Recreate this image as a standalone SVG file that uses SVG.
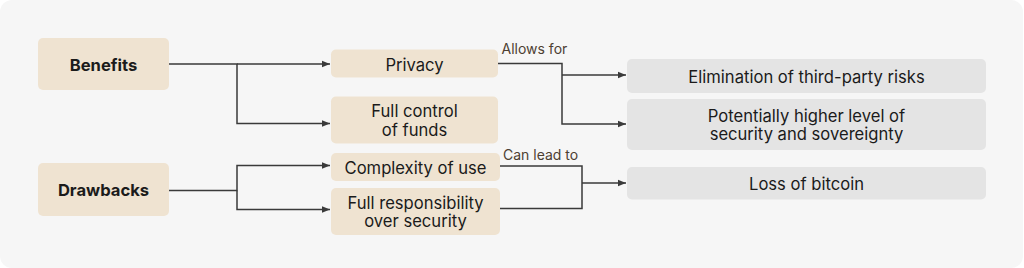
<svg xmlns="http://www.w3.org/2000/svg" width="1024" height="268" viewBox="0 0 1024 268">
<defs>
<style>
.bg{fill:#f6f6f6}
.src{fill:#efe3d1}
.dst{fill:#e4e4e4}
.t{font-family:Inter,"Noto Sans","Liberation Sans",sans-serif;font-size:16.6px;fill:#1b1b1b;text-anchor:middle}
.b{font-weight:700}
.lbl{font-family:Inter,"Noto Sans","Liberation Sans",sans-serif;font-size:14px;fill:#4d4032}
.c{fill:none;stroke:#3a3a3a;stroke-width:1.5}
</style>
<marker id="ah" viewBox="0 0 8 8" refX="8" refY="4" markerWidth="8" markerHeight="8" markerUnits="userSpaceOnUse" orient="auto">
<path d="M0,0.8 L8,4 L0,7.2 Z" fill="#3a3a3a"/>
</marker>
</defs>
<rect class="bg" x="0" y="0" width="1023" height="268" rx="12"/>

<g id="connectors">
<path class="c" d="M169,64 H237 V123.5 H330" marker-end="url(#ah)"/>
<path class="c" d="M237,64 H330" marker-end="url(#ah)"/>
<path class="c" d="M169,190.5 H237 V165.5 H330" marker-end="url(#ah)"/>
<path class="c" d="M237,190.5 V209.5 H330" marker-end="url(#ah)"/>
<path class="c" d="M498,63.5 H562 V124 H626" marker-end="url(#ah)"/>
<path class="c" d="M562,75 H626" marker-end="url(#ah)"/>
<path class="c" d="M500,166 H582 V208.5 H500"/>
<path class="c" d="M582,183 H626" marker-end="url(#ah)"/>
<text class="lbl" x="501.5" y="54">Allows for</text>
<text class="lbl" x="503" y="160">Can lead to</text>
</g>

<g id="benefits">
<rect class="src" x="38" y="38" width="131" height="52" rx="5"/>
<text class="t b" x="103.5" y="70.5">Benefits</text>
</g>
<g id="drawbacks">
<rect class="src" x="38" y="163" width="131" height="53" rx="5"/>
<text class="t b" x="103.5" y="196">Drawbacks</text>
</g>
<g id="privacy">
<rect class="src" x="331" y="49.5" width="167" height="28" rx="5"/>
<text class="t" x="414.5" y="70.5">Privacy</text>
</g>
<g id="full-control">
<rect class="src" x="331" y="96.5" width="167" height="47" rx="5"/>
<text class="t" x="414.5" y="117.3">Full control</text>
<text class="t" x="414.5" y="135.7">of funds</text>
</g>
<g id="complexity">
<rect class="src" x="331" y="153" width="169" height="28" rx="5"/>
<text class="t" x="415.5" y="173.5">Complexity of use</text>
</g>
<g id="responsibility">
<rect class="src" x="331" y="188" width="169" height="47" rx="5"/>
<text class="t" x="415.5" y="209">Full responsibility</text>
<text class="t" x="415.5" y="227.4">over security</text>
</g>
<g id="elimination">
<rect class="dst" x="627" y="59" width="359" height="34" rx="5"/>
<text class="t" x="806.5" y="82.5">Elimination of third-party risks</text>
</g>
<g id="higher-security">
<rect class="dst" x="627" y="99" width="359" height="51" rx="5"/>
<text class="t" x="806.5" y="121.7">Potentially higher level of</text>
<text class="t" x="806.5" y="140">security and sovereignty</text>
</g>
<g id="loss">
<rect class="dst" x="627" y="167" width="359" height="32.5" rx="5"/>
<text class="t" x="806.5" y="189.5">Loss of bitcoin</text>
</g>
</svg>
